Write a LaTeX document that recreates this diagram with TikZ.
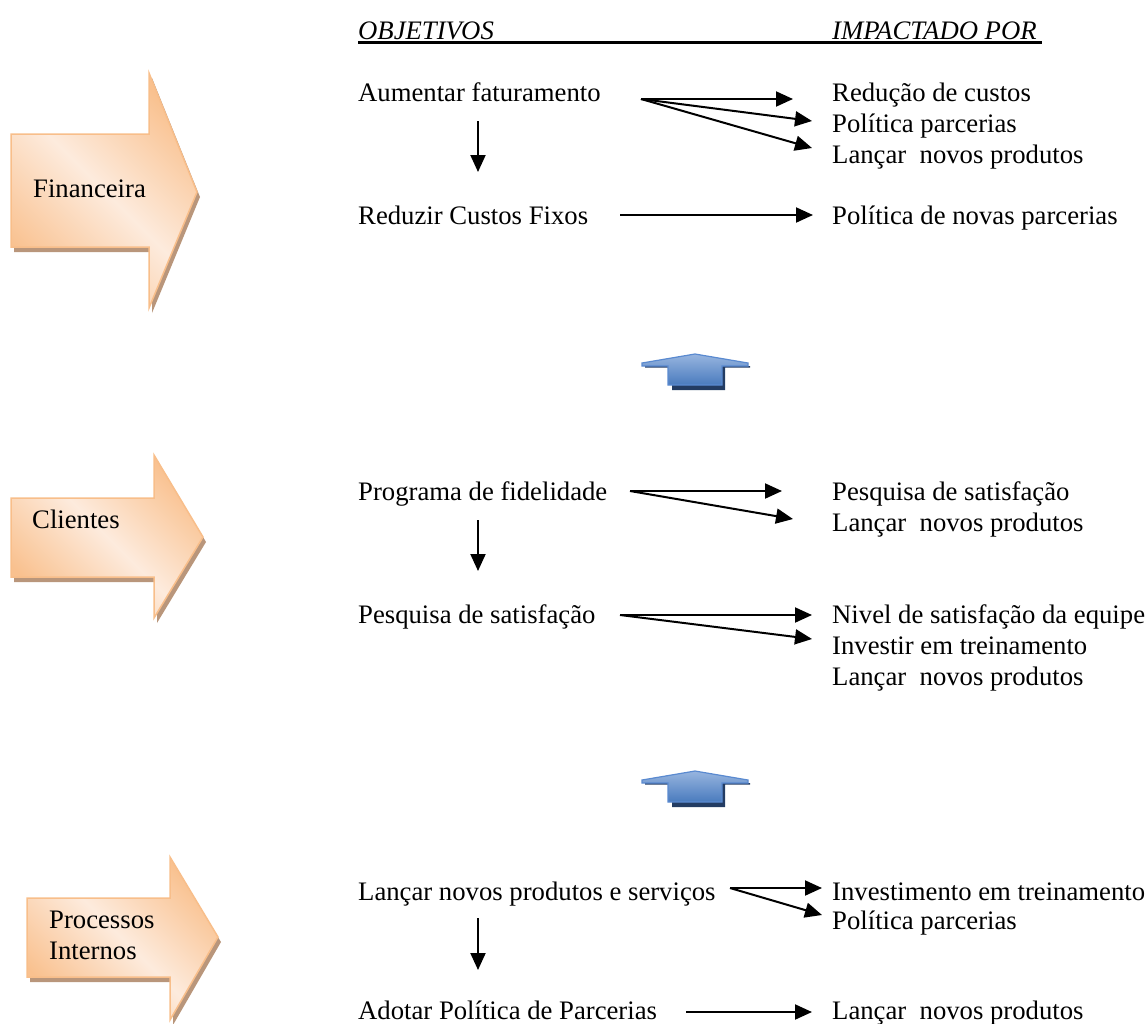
\documentclass[tikz,border=0pt]{standalone}
\usepackage{fontspec}
\setmainfont{Liberation Serif}
\usetikzlibrary{arrows.meta}
\definecolor{peachA}{HTML}{F9C18F}
\definecolor{peachB}{HTML}{FDEBDD}
\definecolor{peachEdge}{HTML}{F8BE8A}
\definecolor{shadowBrown}{HTML}{B9967B}
\definecolor{blueTop}{HTML}{97B5DF}
\definecolor{blueBot}{HTML}{4A7BBE}
\definecolor{blueEdge}{HTML}{5A8AD0}
\definecolor{navy}{HTML}{233C63}

\tikzset{
  lbl/.style={anchor=base west, inner sep=0pt, font=\fontsize{26.7}{32}\selectfont},
  hdr/.style={anchor=base west, inner sep=0pt, font=\fontsize{26.7}{32}\selectfont\itshape},
  link/.style={line width=2pt, -{Triangle[length=17pt,width=15pt]}},
  peach/.style={draw=peachEdge, line width=1.5pt, left color=peachA, right color=peachA,
                middle color=peachB, shading angle=135},
  peachshadow/.style={fill=shadowBrown},
  bluebody/.style={draw=blueEdge, line width=1.2pt, top color=blueTop, bottom color=blueBot},
  blueshadow/.style={fill=navy},
}

% block arrow pointing right: #1 left x, #2 body top, #3 body bottom, #4 shaft end x,
% #5 head top, #6 tip x, #7 tip y, #8 head bottom
\newcommand{\blockarrow}[8]{%
  \fill[peachshadow] (#1+3,#2+5) -- (#4+3,#2+5) -- (#4+3,#5+5) -- (#6+3,#7+5)
    -- (#4+3,#8+5) -- (#4+3,#3+5) -- (#1+3,#3+5) -- cycle;
  \path[peach] (#1,#2) -- (#4,#2) -- (#4,#5) -- (#6,#7) -- (#4,#8) -- (#4,#3) -- (#1,#3) -- cycle;
}

% small upward blue arrow, peak at (#1,#2)
\newcommand{\uparrowblue}[2]{%
  \begin{scope}[shift={(#1,#2)}]
    \fill[blueshadow] (-50,12) -- (55,12) -- (55,13.5) -- (30,13.5) -- (30,36) -- (-23,36)
      -- (-23,13.5) -- (-50,13.5) -- cycle;
    \path[bluebody] (-53,9) -- (0,0) -- (53,9) -- (53,12) -- (27,12) -- (27,31) -- (-27,31)
      -- (-27,12) -- (-53,12) -- cycle;
  \end{scope}
}

\begin{document}
\begin{tikzpicture}[x=1pt,y=-1pt]
  \useasboundingbox (0,0) rectangle (1148,1023);

  % ---- column headers ----
  \node[hdr] (hobj) at (358,39) {OBJETIVOS};
  \node[hdr] (himp) at (832,39) {IMPACTADO POR};
  \coordinate (ul1) at (358,42.5);
  \coordinate (ul2) at (1042,42.5);
  \draw[line width=2.2pt] (ul1) -- (ul2);

  % ---- Financeira ----
  \blockarrow{11}{134}{247}{149}{73}{197}{192}{308}
  \node[lbl] (fin) at (33,197) {Financeira};

  \node[lbl] (f1) at (358,101) {Aumentar faturamento};
  \node[lbl] (f1a) at (832,101) {Redução de custos};
  \node[lbl] (f1b) at (832,132) {Política parcerias};
  \node[lbl] (f1c) at (832,163) {Lançar\ \ novos produtos};
  \node[lbl] (f2) at (358,224) {Reduzir Custos Fixos};
  \node[lbl] (f2a) at (832,224) {Política de novas parcerias};

  \coordinate (f1s) at (641,99);
  \coordinate (f1t1) at (793,99);
  \coordinate (f1t2) at (812,121);
  \coordinate (f1t3) at (812,148);
  \draw[link] (f1s) -- (f1t1);
  \draw[link] (f1s) -- (f1t2);
  \draw[link] (f1s) -- (f1t3);
  \coordinate (fd1) at (478,121);
  \coordinate (fd2) at (478,172);
  \draw[link] (fd1) -- (fd2);
  \coordinate (f2s) at (620,215);
  \coordinate (f2t) at (813,215);
  \draw[link] (f2s) -- (f2t);

  % ---- connectors between perspectives ----
  \uparrowblue{695}{354}
  \uparrowblue{695}{771}

  % ---- Clientes ----
  \blockarrow{11}{498}{577}{154}{455}{203}{537}{618}
  \node[lbl] (cli) at (32,528) {Clientes};

  \node[lbl] (c1) at (358,500) {Programa de fidelidade};
  \node[lbl] (c1a) at (832,500) {Pesquisa de satisfação};
  \node[lbl] (c1b) at (832,531) {Lançar\ \ novos produtos};
  \node[lbl] (c2) at (358,623) {Pesquisa de satisfação};
  \node[lbl] (c2a) at (832,623) {Nivel de satisfação da equipe};
  \node[lbl] (c2b) at (832,654) {Investir em treinamento};
  \node[lbl] (c2c) at (832,685) {Lançar\ \ novos produtos};

  \coordinate (c1s) at (630,491);
  \coordinate (c1t1) at (782,491);
  \coordinate (c1t2) at (793,519);
  \draw[link] (c1s) -- (c1t1);
  \draw[link] (c1s) -- (c1t2);
  \coordinate (cd1) at (478,520);
  \coordinate (cd2) at (478,571);
  \draw[link] (cd1) -- (cd2);
  \coordinate (c2s) at (620,615);
  \coordinate (c2t1) at (812,615);
  \coordinate (c2t2) at (812,639);
  \draw[link] (c2s) -- (c2t1);
  \draw[link] (c2s) -- (c2t2);

  % ---- Processos Internos ----
  \blockarrow{27}{898}{977}{170}{857}{218}{937}{1020}
  \node[lbl] (proc1) at (49,928) {Processos};
  \node[lbl] (proc2) at (49,959) {Internos};

  \node[lbl] (p1) at (358,900) {Lançar novos produtos e serviços};
  \node[lbl] (p1a) at (832,900) {Investimento em treinamento};
  \node[lbl] (p1b) at (832,929) {Política parcerias};
  \node[lbl] (p2) at (358,1019) {Adotar Política de Parcerias};
  \node[lbl] (p2a) at (832,1019) {Lançar\ \ novos produtos};

  \coordinate (p1s) at (730,888);
  \coordinate (p1t1) at (822,888);
  \coordinate (p1t2) at (822,915);
  \draw[link] (p1s) -- (p1t1);
  \draw[link] (p1s) -- (p1t2);
  \coordinate (pd1) at (478,918);
  \coordinate (pd2) at (478,970);
  \draw[link] (pd1) -- (pd2);
  \coordinate (p2s) at (686,1012);
  \coordinate (p2t) at (812,1012);
  \draw[link] (p2s) -- (p2t);
\end{tikzpicture}
\end{document}
